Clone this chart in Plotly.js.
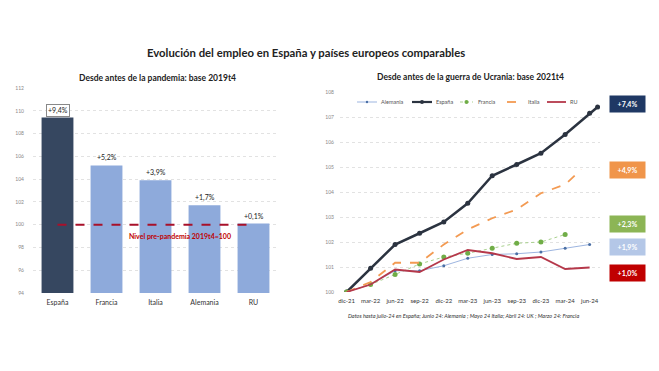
<!DOCTYPE html>
<html><head><meta charset="utf-8">
<script src="https://cdn.plot.ly/plotly-3.0.1.min.js"></script>
<style>html,body{margin:0;padding:0;background:#fff}#c{width:659px;height:371px}</style>
</head><body><div id="c"></div>
<script>
// Left chart data
const countries = ['España','Francia','Italia','Alemania','RU'];
const levels2019 = [109.4, 105.2, 103.9, 101.7, 100.1];
const levelLabels = ['+9,4%','+5,2%','+3,9%','+1,7%','+0,1%'];
const barColors = ['#364760','#8eaadb','#8eaadb','#8eaadb','#8eaadb'];

// Right chart data
const quarters = ['2021-12-01','2022-03-01','2022-06-01','2022-09-01','2022-12-01','2023-03-01','2023-06-01','2023-09-01','2023-12-01','2024-03-01','2024-06-01'];
const quarterLabels = ['dic-21','mar-22','jun-22','sep-22','dic-22','mar-23','jun-23','sep-23','dic-23','mar-24','jun-24'];
const espDates = ['2021-12-01','2022-03-01','2022-06-01','2022-09-01','2022-12-01','2023-03-01','2023-06-01','2023-09-01','2023-12-01','2024-03-01','2024-06-01','2024-07-01'];
const espVals = [100,100.95,101.9,102.35,102.8,103.55,104.65,105.1,105.55,106.3,107.15,107.4];
const aleDates = ['2021-12-01','2022-03-01','2022-06-01','2022-09-01','2022-12-01','2023-03-01','2023-06-01','2023-09-01','2023-12-01','2024-03-01','2024-06-01'];
const aleVals = [100,100.3,100.85,100.85,101.05,101.35,101.5,101.53,101.6,101.75,101.9];
const fraDates = ['2021-12-01','2022-03-01','2022-06-01','2022-09-01','2022-12-01','2023-03-01','2023-06-01','2023-09-01','2023-12-01','2024-03-01'];
const fraVals = [100,100.3,100.7,101.12,101.4,101.55,101.75,101.95,102.0,102.3];
const itaDates = ['2021-12-01','2022-03-01','2022-06-01','2022-09-01','2022-12-01','2023-03-01','2023-06-01','2023-09-01','2023-12-01','2024-03-01','2024-05-01'];
const itaVals = [100,100.4,101.17,101.17,101.9,102.5,102.95,103.3,103.95,104.3,104.9];
const ruDates = ['2021-12-01','2022-03-01','2022-06-01','2022-09-01','2022-12-01','2023-03-01','2023-06-01','2023-09-01','2023-12-01','2024-03-01','2024-06-01'];
const ruVals = [100,100.3,100.9,100.8,101.3,101.68,101.55,101.32,101.4,100.92,100.98];
const endLabels = ['+7,4%','+4,9%','+2,3%','+1,9%','+1,0%'];
const endColors = ['#1f3864','#f0954a','#8cb555','#b4c7e7','#c00000'];
const endY = [0.721, 0.543, 0.395, 0.334, 0.263];

const F = 'Lato, "Open Sans", sans-serif';

const series = [
  {name:'Alemania', x:aleDates, y:aleVals, mode:'lines+markers', line:{color:'#9db5e0', width:1}, marker:{color:'#4a6fa5', size:3}},
  {name:'España', x:espDates, y:espVals, mode:'lines+markers', line:{color:'#2b3340', width:2.5}, marker:{color:'#2b3340', size:5}},
  {name:'Francia', x:fraDates, y:fraVals, mode:'lines+markers', line:{color:'#a9d18e', width:1, dash:'dot'}, marker:{color:'#70ad47', size:5}},
  {name:'Italia', x:itaDates, y:itaVals, mode:'lines', line:{color:'#f39a52', width:1.8, dash:'dash'}},
  {name:'RU', x:ruDates, y:ruVals, mode:'lines', line:{color:'#b5384a', width:1.8}}
];

const traces = [
  {type:'bar', x:countries, y:levels2019, marker:{color:barColors}, xaxis:'x', yaxis:'y', showlegend:false, hoverinfo:'skip', base:0}
];
series.forEach(s=>traces.push(Object.assign({type:'scatter', xaxis:'x2', yaxis:'y2', showlegend:false}, s)));

const P = (px)=>px/659, Q = (py)=>1-py/371;

const annotations = [
  {text:'<b>Evolución del empleo en España y países europeos comparables</b>', xref:'paper', yref:'paper', x:P(306), y:Q(52), xanchor:'center', yanchor:'middle', showarrow:false, font:{family:F, size:11.3, color:'#222'}},
  {text:'<b>Desde antes de la pandemia: base 2019t4</b>', xref:'paper', yref:'paper', x:P(157), y:Q(78), xanchor:'center', yanchor:'middle', showarrow:false, font:{family:F, size:8.5, color:'#222'}},
  {text:'<b>Desde antes de la guerra de Ucrania: base 2021t4</b>', xref:'paper', yref:'paper', x:P(470), y:Q(77), xanchor:'center', yanchor:'middle', showarrow:false, font:{family:F, size:8.5, color:'#222'}},
  {text:'<b>Nivel pre-pandemia 2019t4=100</b>', xref:'x', yref:'y', x:2.5, y:99, xanchor:'center', yanchor:'middle', showarrow:false, font:{family:F, size:7, color:'#c00000'}},
  {text:'<i>Datos hasta julio-24 en España; Junio 24: Alemania ; Mayo 24 Italia; Abril 24: UK ; Marzo 24: Francia</i>', xref:'paper', yref:'paper', x:P(463), y:Q(316), xanchor:'center', yanchor:'middle', showarrow:false, font:{family:F, size:5.5, color:'#333'}}
];
countries.forEach((c,i)=>{
  const a = {text:levelLabels[i], xref:'x', yref:'y', x:c, y:levels2019[i], xanchor:'center', yanchor:'bottom', yshift:1, showarrow:false, font:{family:F, size:7, color:'#222'}};
  if(i===0){a.bordercolor='#888'; a.borderwidth=1; a.borderpad=1; a.bgcolor='#fff';}
  annotations.push(a);
});
endLabels.forEach((t,i)=>{
  annotations.push({text:'<b>'+t+'</b>', xref:'paper', yref:'paper', x:P(627), y:endY[i], xanchor:'center', yanchor:'middle', showarrow:false,
    bgcolor:endColors[i], width:31, height:12, borderpad:2, font:{family:F, size:7, color:'#fff'}});
});

// compact legend (symbol start px, symbol end px, text start px)
const legendPos = [[357,377,379],[412,432,434],[460,473,476],[507,523,526],[547,566,568]];
const legY = 102;
const shapes = [{type:'line', xref:'x', yref:'y', x0:0, x1:4, y0:100, y1:100, line:{color:'#a8102a', width:2, dash:'dash'}, layer:'above'}];
series.forEach((s,i)=>{
  const [a,b,t] = legendPos[i];
  shapes.push({type:'line', xref:'paper', yref:'paper', x0:P(a), x1:P(b), y0:Q(legY), y1:Q(legY), line:{color:s.line.color, width:Math.min(s.line.width,2.2), dash:s.line.dash||'solid'}});
  if(s.marker){
    const m=(a+b)/2, r=s.marker.size/2*0.8;
    shapes.push({type:'circle', xref:'paper', yref:'paper', x0:P(m-r), x1:P(m+r), y0:Q(legY+r), y1:Q(legY-r), fillcolor:s.marker.color, line:{width:0}});
  }
  annotations.push({text:s.name, xref:'paper', yref:'paper', x:P(t), y:Q(legY), xanchor:'left', yanchor:'middle', showarrow:false, font:{family:F, size:5.5, color:'#555'}});
});

const layout = {
  width:659, height:371, margin:{l:0,r:0,t:0,b:0}, paper_bgcolor:'#fff', plot_bgcolor:'#fff',
  font:{family:F, color:'#444'}, bargap:0.35, showlegend:false,
  xaxis:{domain:[33/659, 278/659], anchor:'y', showgrid:false, zeroline:false, showline:false, ticks:'', ticklabelstandoff:4, tickfont:{size:7, color:'#333'}},
  yaxis:{domain:[1-293/371, 1-88/371], anchor:'x', range:[94,112], dtick:2, showgrid:true, gridcolor:'#e2e2e2', griddash:'dot', zeroline:false, ticklabelstandoff:8, tickfont:{size:5, color:'#888'}, ticks:''},
  xaxis2:{domain:[340/659, 600/659], anchor:'y2', type:'date', range:['2021-11-06','2024-07-10'], tickvals:quarters, ticktext:quarterLabels, tickangle:0, showgrid:false, zeroline:false, showline:false, ticks:'', ticklabelstandoff:4, tickfont:{size:6, color:'#333'}},
  yaxis2:{domain:[1-292/371, 1-92/371], anchor:'x2', range:[100,108], dtick:1, showgrid:true, gridcolor:'#e2e2e2', griddash:'dot', zeroline:false, ticklabelstandoff:5, tickfont:{size:5, color:'#888'}, ticks:''},
  shapes:shapes,
  annotations:annotations
};
Plotly.newPlot('c', traces, layout, {staticPlot:true});
</script></body></html>
